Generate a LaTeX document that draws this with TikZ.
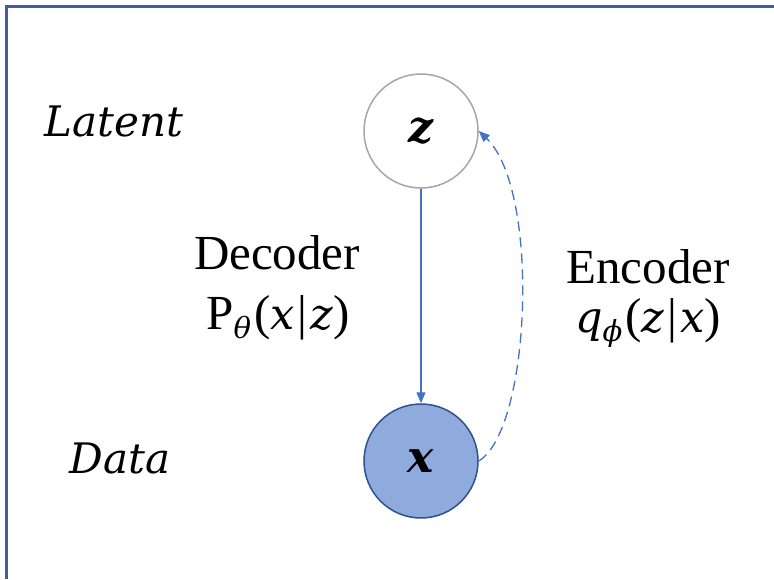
\documentclass[tikz,border=0pt]{standalone}
\usepackage{fontspec}
\setmainfont{Liberation Serif}
\newfontfamily\djsi{DejaVu Serif}
\usetikzlibrary{arrows.meta}
\definecolor{framec}{HTML}{3F5E9E}
\definecolor{linkc}{HTML}{4472C4}
\definecolor{datafill}{HTML}{8FAADC}
\definecolor{dataedge}{HTML}{2F528F}
\definecolor{latedge}{HTML}{A6A6A6}
\newcommand\vv[1]{{\djsi\itshape\fontsize{43}{50}\selectfont #1}}
\newcommand\vsub[1]{\raisebox{-9pt}{\djsi\itshape\fontsize{29}{36}\selectfont #1}}
\newcommand\gap{\hspace{3pt}}
\begin{document}
\begin{tikzpicture}[x=1pt,y=-1pt,
  varnode/.style={circle,minimum size=114pt,inner sep=0pt,line width=1.5pt},
  sidelabel/.style={anchor=base,font=\djsi\itshape\fontsize{42}{50}\selectfont},
  funclabel/.style={anchor=base,font=\fontsize{49}{60}\selectfont},
  link/.style={linkc,line width=1.3pt}]
\useasboundingbox (0,0) rectangle (774,579);
\fill[white] (0,0) rectangle (774,579);
\draw[framec,line width=3pt] (6,579) -- (6,6) -- (774,6);

\node[varnode,draw=latedge,fill=white] (z) at (421,131) {\djsi\bfseries\itshape\fontsize{44}{52}\selectfont z};
\node[varnode,draw=dataedge,fill=datafill] (x) at (421,461) {\djsi\bfseries\itshape\fontsize{44}{52}\selectfont x};

\node[sidelabel] (lat) at (114,136) {Latent};
\node[sidelabel] (dat) at (120,473) {Data};

\node[funclabel] (dec) at (277,269) {Decoder};
\node[funclabel] (decf) at (278,329) {P\vsub{θ}\gap(\vv{x}\gap|\gap\vv{z})};
\node[funclabel] (enc) at (648,283) {Encoder};
\node[funclabel] (encf) at (648,332) {\vv{q}\vsub{ϕ}\gap(\vv{z}\gap|\gap\vv{x})};

\draw[link,-{Triangle[width=9pt,length=11pt]}] (z) -- (x);
\draw[link,dash pattern=on 10pt off 6pt,-{Triangle[width=9pt,length=11pt]}]
  (x.east) .. controls +(52,-31) and +(62,59) .. (z.east);
\end{tikzpicture}
\end{document}
